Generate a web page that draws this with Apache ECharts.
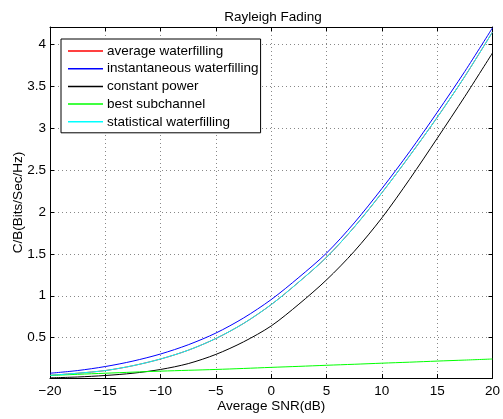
<!DOCTYPE html>
<html>
<head>
<meta charset="utf-8">
<script src="https://cdn.jsdelivr.net/npm/echarts@6/dist/echarts.min.js"></script>
<style>
  html, body { margin: 0; padding: 0; background: #fff; }
  #root { width: 503px; height: 419px; }
</style>
</head>
<body>
<div id="root"></div>
<script>
const snrDb = [-20, -17.5, -15, -12.5, -10, -7.5, -5, -2.5, 0, 2.5, 5, 7.5, 10, 12.5, 15, 17.5, 20];

const averageWaterfilling = [0.05, 0.075, 0.107, 0.165, 0.245, 0.35, 0.49, 0.67, 0.895, 1.165, 1.46, 1.82, 2.23, 2.67, 3.13, 3.62, 4.15];
const instantaneousWaterfilling = [0.075, 0.107, 0.155, 0.22, 0.305, 0.415, 0.555, 0.735, 0.955, 1.22, 1.51, 1.87, 2.28, 2.72, 3.19, 3.68, 4.2];
const constantPower = [0.02, 0.03, 0.048, 0.075, 0.12, 0.19, 0.30, 0.45, 0.64, 0.9, 1.19, 1.53, 1.93, 2.39, 2.88, 3.38, 3.9];
const bestSubchannel = [0.048, 0.062, 0.075, 0.088, 0.1, 0.11, 0.12, 0.132, 0.145, 0.157, 0.17, 0.182, 0.195, 0.207, 0.22, 0.232, 0.245];
const statisticalWaterfilling = [0.05, 0.075, 0.107, 0.165, 0.245, 0.35, 0.49, 0.67, 0.895, 1.165, 1.46, 1.82, 2.23, 2.67, 3.13, 3.62, 4.15];

const yTicks = [0.5, 1, 1.5, 2, 2.5, 3, 3.5, 4];
const yMin = 0.018;
const yMax = 4.21;

const FONT = 'Liberation Sans, Arial, Helvetica, sans-serif';
const FS = 13.5;

const seriesDefs = [
  { name: 'average waterfilling', color: '#ff0000', data: averageWaterfilling },
  { name: 'instantaneous waterfilling', color: '#0000ff', data: instantaneousWaterfilling },
  { name: 'constant power', color: '#000000', data: constantPower },
  { name: 'best subchannel', color: '#00ff00', data: bestSubchannel },
  { name: 'statistical waterfilling', color: '#00ffff', data: statisticalWaterfilling }
];

const minus = (v) => String(v).replace('-', '\u2212');

const gridLine = { show: true, lineStyle: { color: '#888', width: 1, type: [1, 3] } };
const boxLine = { show: true, onZero: false, lineStyle: { color: '#000', width: 1 } };
const tick = { show: true, inside: true, length: 4, lineStyle: { color: '#000' } };

const option = {
  animation: false,
  backgroundColor: '#fff',
  textStyle: { fontFamily: FONT },
  title: {
    text: 'Rayleigh Fading',
    left: 268,
    textAlign: 'center',
    top: 5,
    textStyle: { fontFamily: FONT, fontSize: FS, fontWeight: 'normal', color: '#000' }
  },
  grid: { left: 50, right: 6, top: 27, bottom: 41, containLabel: false },
  legend: {
    orient: 'vertical',
    left: 61,
    top: 39,
    padding: [5, 2, 4, 7],
    icon: 'rect',
    itemWidth: 35,
    itemHeight: 1.5,
    itemGap: 3.7,
    backgroundColor: '#fff',
    borderColor: '#000',
    borderWidth: 1,
    borderRadius: 0,
    textStyle: { fontFamily: FONT, fontSize: FS, color: '#000', padding: [0, 0, 0, -1] },
    data: seriesDefs.map(s => s.name)
  },
  xAxis: [{
    type: 'value',
    min: -20,
    max: 20,
    interval: 5,
    name: 'Average SNR(dB)',
    nameLocation: 'middle',
    nameGap: 21,
    nameMoveOverlap: false,
    nameTextStyle: { fontFamily: FONT, fontSize: FS, color: '#000' },
    axisLine: boxLine,
    axisTick: tick,
    axisLabel: { margin: 6, fontFamily: FONT, fontSize: FS, color: '#000', formatter: minus },
    splitLine: gridLine
  }, {
    type: 'value',
    position: 'top',
    min: -20,
    max: 20,
    interval: 5,
    axisLine: boxLine,
    axisTick: tick,
    axisLabel: { show: false },
    splitLine: { show: false }
  }],
  yAxis: [{
    type: 'value',
    min: yMin,
    max: yMax,
    name: 'C/B(Bits/Sec/Hz)',
    nameLocation: 'middle',
    nameGap: 25,
    nameMoveOverlap: false,
    nameTextStyle: { fontFamily: FONT, fontSize: FS, color: '#000' },
    axisLine: boxLine,
    axisTick: Object.assign({ customValues: yTicks }, tick),
    axisLabel: { margin: 4, fontFamily: FONT, fontSize: FS, color: '#000', customValues: yTicks },
    splitLine: gridLine
  }, {
    type: 'value',
    position: 'right',
    min: yMin,
    max: yMax,
    axisLine: boxLine,
    axisTick: Object.assign({ customValues: yTicks }, tick),
    axisLabel: { show: false, customValues: yTicks },
    splitLine: { show: false }
  }],
  series: seriesDefs.map(s => ({
    name: s.name,
    type: 'line',
    xAxisIndex: 0,
    yAxisIndex: 0,
    data: snrDb.map((x, i) => [x, s.data[i]]),
    symbol: 'none',
    smooth: 0.3,
    color: s.color,
    lineStyle: { color: s.color, width: 1 }
  }))
};

const chart = echarts.init(document.getElementById('root'), null, { renderer: 'canvas' });
chart.setOption(option);
</script>
</body>
</html>
